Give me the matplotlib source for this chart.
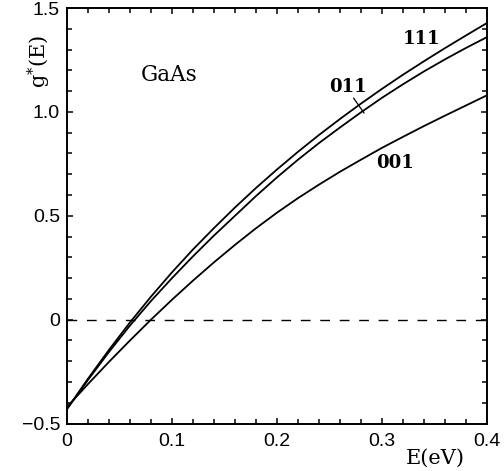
import numpy as np
import matplotlib.pyplot as plt
from matplotlib.ticker import MultipleLocator

plt.rcParams['mathtext.fontset'] = 'dejavuserif'

# energy grid (eV) and g*(E)
E = [0.00, 0.02, 0.04, 0.06, 0.08, 0.10, 0.12, 0.14, 0.16, 0.18, 0.20,
     0.22, 0.24, 0.26, 0.28, 0.30, 0.32, 0.34, 0.36, 0.38, 0.40]
g_111 = [-0.43, -0.284, -0.145, -0.013, 0.111, 0.228, 0.338, 0.441, 0.540, 0.634, 0.723,
         0.808, 0.889, 0.966, 1.040, 1.111, 1.179, 1.244, 1.307, 1.368, 1.428]
g_011 = [-0.43, -0.290, -0.155, -0.028, 0.090, 0.200, 0.305, 0.405, 0.500, 0.595, 0.685,
         0.770, 0.850, 0.925, 0.998, 1.068, 1.133, 1.195, 1.253, 1.308, 1.360]
g_001 = [-0.42, -0.310, -0.203, -0.100, 0.000, 0.096, 0.188, 0.276, 0.360, 0.440, 0.515,
         0.585, 0.650, 0.712, 0.770, 0.827, 0.880, 0.932, 0.982, 1.031, 1.080]

xticks = [0, 0.1, 0.2, 0.3, 0.4]
xticklabels = ['0', '0.1', '0.2', '0.3', '0.4']
yticks = [-0.5, 0, 0.5, 1.0, 1.5]
yticklabels = ['\u22120.5', '0', '0.5', '1.0', '1.5']

fig = plt.figure(figsize=(5.04, 4.71), dpi=100)
ax = fig.add_axes([0.133, 0.1008, 0.833, 0.882])

for g in (g_111, g_011, g_001):
    ax.plot(E, g, color='black', lw=1.3)
ax.axhline(0, color='black', lw=1.0, linestyle=(0, (7, 7)))

ax.set_xlim(0, 0.4)
ax.set_ylim(-0.5, 1.5)
ax.set_xticks(xticks)
ax.set_xticklabels(xticklabels)
ax.set_yticks(yticks)
ax.set_yticklabels(yticklabels)
ax.xaxis.set_minor_locator(MultipleLocator(0.02))
ax.yaxis.set_minor_locator(MultipleLocator(0.1))
ax.tick_params(which='both', direction='in', top=True, right=True, width=1.1)
ax.tick_params(which='major', length=4.5)
ax.tick_params(which='minor', length=3.5)
ax.tick_params(axis='x', pad=7)
ax.tick_params(axis='y', pad=5)
for lab in ax.get_xticklabels() + ax.get_yticklabels():
    lab.set_family('Liberation Sans')
    lab.set_fontsize(14)
for sp in ax.spines.values():
    sp.set_linewidth(1.4)

serif = 'DejaVu Serif'
ax.text(0.097, 1.18, 'GaAs', family=serif, fontsize=15.5, ha='center', va='center')
ax.text(0.338, 1.35, '111', family=serif, fontsize=13, weight='bold', ha='center', va='center')
ax.text(0.268, 1.12, '011', family=serif, fontsize=13, weight='bold', ha='center', va='center')
ax.text(0.312, 0.755, '001', family=serif, fontsize=13, weight='bold', ha='center', va='center')
ax.annotate('', xy=(0.283, 0.995), xytext=(0.273, 1.067),
            arrowprops=dict(arrowstyle='-', color='black', lw=0.9, shrinkA=0, shrinkB=0))

ax.set_xlabel('E(eV)', family=serif, fontsize=15, va='center')
ax.xaxis.set_label_coords(0.878, -0.083)
ax.set_ylabel(r'$\mathrm{g}^{*}\mathrm{(E)}$', fontsize=15, va='center')
ax.yaxis.set_label_coords(-0.067, 0.872)

fig.savefig('out.png', dpi=100)
